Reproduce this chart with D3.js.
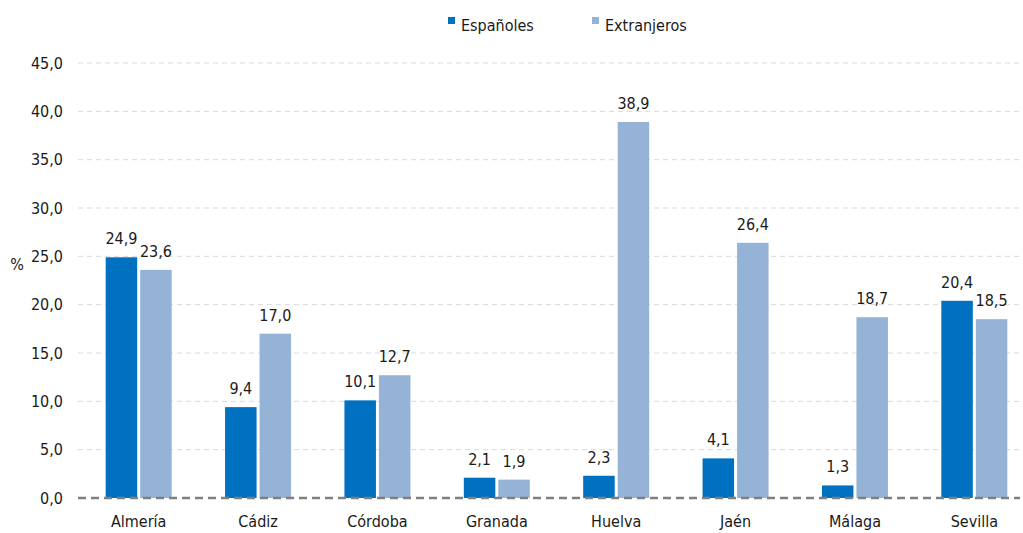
<!DOCTYPE html>
<html>
<head>
    <script src="https://d3js.org/d3.v7.min.js"></script>
    <style>
        body { margin: 0; background: #ffffff; }
        text { font-family: "Liberation Sans Narrow", "DejaVu Sans Condensed", sans-serif; fill: #1a1a1a; }
    </style>
</head>
<body>
    <svg id="canvas" width="1023" height="533"></svg>
    <script>
        const svg = d3.select('#canvas');
        const WIDTH = 1023;
        const HEIGHT = 533;

        //data
        const provinces = ['Almería', 'Cádiz', 'Córdoba', 'Granada', 'Huelva', 'Jaén', 'Málaga', 'Sevilla'];
        const espanoles = [24.9, 9.4, 10.1, 2.1, 2.3, 4.1, 1.3, 20.4];
        const extranjeros = [23.6, 17.0, 12.7, 1.9, 38.9, 26.4, 18.7, 18.5];
        const seriesNames = ['Españoles', 'Extranjeros'];
        const yTicks = [0, 5, 10, 15, 20, 25, 30, 35, 40, 45];

        const COLORS = ['#0070c0', '#95b3d7'];
        const PLOT_LEFT = 78;
        const PLOT_RIGHT = 1020;

        const fmt = v => d3.format('.1f')(v).replace('.', ',');

        //the category step is a bit wider than plot/8 in the original, last band runs past the edge
        const x = d3.scaleBand()
            .domain(provinces)
            .range([79, 1034]);

        const y = d3.scaleLinear()
            .domain([0, 45])
            .range([498, 63]);

        const BAR_W = 31.5;
        const GAP = 3;

        //gridlines
        svg.append('g')
            .selectAll('line')
            .data(yTicks.filter(d => d > 0))
            .join('line')
            .attr('x1', PLOT_LEFT)
            .attr('x2', PLOT_RIGHT)
            .attr('y1', d => y(d))
            .attr('y2', d => y(d))
            .attr('stroke', '#d9d9d9')
            .attr('stroke-width', 1)
            .attr('stroke-dasharray', '5,4');

        //y axis tick labels
        const yAxis = svg.append('g')
            .attr('transform', `translate(${PLOT_LEFT},0)`)
            .call(d3.axisLeft(y).tickValues(yTicks).tickFormat(fmt).tickSize(0).tickPadding(15));
        yAxis.select('.domain').remove();
        yAxis.selectAll('text')
            .attr('font-size', 16)
            .style('font-family', '"Liberation Sans Narrow", "DejaVu Sans Condensed", sans-serif')
            .attr('fill', '#1a1a1a');

        //bars
        const data = provinces.map((p, i) => ({ p, vals: [espanoles[i], extranjeros[i]] }));
        const groups = svg.append('g')
            .selectAll('g')
            .data(data)
            .join('g')
            .attr('transform', d => `translate(${x(d.p) + x.bandwidth() / 2},0)`);

        groups.selectAll('rect')
            .data(d => d.vals)
            .join('rect')
            .attr('x', (d, i) => i === 0 ? -BAR_W - GAP / 2 : GAP / 2)
            .attr('width', BAR_W)
            .attr('y', d => y(d))
            .attr('height', d => y(0) - y(d))
            .attr('fill', (d, i) => COLORS[i]);

        groups.selectAll('text.val')
            .data(d => d.vals)
            .join('text')
            .attr('class', 'val')
            .attr('x', (d, i) => i === 0 ? -BAR_W / 2 - GAP / 2 : BAR_W / 2 + GAP / 2)
            .attr('y', d => y(d) - 13)
            .attr('text-anchor', 'middle')
            .attr('font-size', 16)
            .text(fmt);

        //zero line
        svg.append('line')
            .attr('x1', PLOT_LEFT)
            .attr('x2', PLOT_RIGHT)
            .attr('y1', y(0))
            .attr('y2', y(0))
            .attr('stroke', '#7f7f7f')
            .attr('stroke-width', 2.5)
            .attr('stroke-dasharray', '8,5');

        //x axis labels
        svg.append('g')
            .selectAll('text')
            .data(provinces)
            .join('text')
            .attr('x', d => x(d) + x.bandwidth() / 2)
            .attr('y', HEIGHT - 6)
            .attr('text-anchor', 'middle')
            .attr('font-size', 16)
            .text(d => d);

        //y axis title
        svg.append('text')
            .attr('x', 17)
            .attr('y', 270)
            .attr('text-anchor', 'middle')
            .attr('font-size', 16)
            .text('%');

        //legend
        const legendX = [448, 592];
        const legend = svg.append('g')
            .selectAll('g')
            .data(seriesNames)
            .join('g')
            .attr('transform', (d, i) => `translate(${legendX[i]},0)`);
        legend.append('rect')
            .attr('x', 0)
            .attr('y', 17)
            .attr('width', 7)
            .attr('height', 7)
            .attr('fill', (d, i) => COLORS[i]);
        legend.append('text')
            .attr('x', 13)
            .attr('y', 31)
            .attr('font-size', 16)
            .text(d => d);
    </script>
</body>
</html>
